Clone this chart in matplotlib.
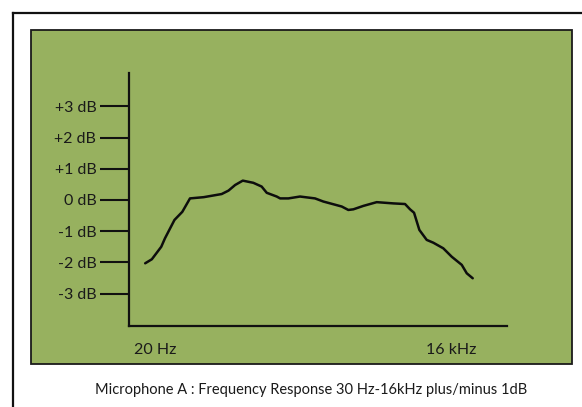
import matplotlib
matplotlib.use("Agg")
import matplotlib.pyplot as plt
from matplotlib.patches import Rectangle
from matplotlib.lines import Line2D

# ---- data ----
freq_hz = [16, 18.6, 23, 25, 31, 37, 44, 60, 90, 105, 122, 145, 184, 222, 249,
           312, 337, 406, 528, 741, 894, 1355, 1572, 1761, 2208, 2985, 4345,
           5660, 6339, 6937, 7818, 9230, 10715, 13430, 16250, 20370, 22800, 26100]
response_db = [-2.03, -1.90, -1.50, -1.23, -0.64, -0.38, 0.05, 0.09, 0.19, 0.30,
               0.48, 0.62, 0.55, 0.43, 0.23, 0.11, 0.05, 0.05, 0.11, 0.05, -0.05,
               -0.21, -0.32, -0.30, -0.19, -0.07, -0.11, -0.13, -0.30, -0.41,
               -0.96, -1.28, -1.37, -1.55, -1.82, -2.08, -2.35, -2.51]
y_ticks = [3, 2, 1, 0, -1, -2, -3]
y_labels = ["+3 dB", "+2 dB", "+1 dB", "0 dB", "-1 dB", "-2 dB", "-3 dB"]
x_ticks = [20, 16000]
x_labels = ["20 Hz", "16 kHz"]
caption = "Microphone A : Frequency Response 30 Hz-16kHz plus/minus 1dB"
title = "Microphone A Frequency Response"

W, H = 582, 407
fig = plt.figure(figsize=(W / 100, H / 100), dpi=100)
fig.patch.set_facecolor("white")

def fx(px):
    return px / W

def fy(py):
    return 1 - py / H

# outer frame (top and left edges visible)
fig.add_artist(Line2D([fx(12.5), fx(W + 5)], [fy(12.5), fy(12.5)], color="#111111", lw=1.6))
fig.add_artist(Line2D([fx(12.5), fx(12.5)], [fy(12.5), fy(H + 5)], color="#111111", lw=1.6))

# green panel
green = "#97B15F"
fig.add_artist(Rectangle((fx(31), fy(364)), fx(572) - fx(31), fy(30) - fy(364),
                         facecolor=green, edgecolor="#1a1a1a", lw=1.3,
                         transform=fig.transFigure, zorder=0))

# cut-off title at the very top (only descender tips visible, as in the reference)
fig.text(0.42, fy(-3.5), title, ha="center", va="baseline", fontsize=13,
         fontweight="bold", family="Liberation Serif", color="#111111")

# plot axes
left, right, top, bottom = 129, 507, 73, 326
ax = fig.add_axes([fx(left), fy(bottom), fx(right) - fx(left), fy(top) - fy(bottom)])
ax.set_facecolor("none")
ax.set_xscale("log")
ax.set_xlim(11.1, 56600)
ax.set_ylim(-4.04, 4.07)

ax.plot(freq_hz, response_db, color="#0d0d0d", lw=1.8, solid_capstyle="round")

for s in ["top", "right"]:
    ax.spines[s].set_visible(False)
for s in ["left", "bottom"]:
    ax.spines[s].set_color("#111111")
    ax.spines[s].set_linewidth(1.6)

font = "Lato"
ax.set_yticks(y_ticks)
ax.set_yticklabels(y_labels, fontsize=11.5, family=font, color="#1a1a1a")
ax.tick_params(axis="y", length=21, width=1.5, color="#111111", pad=2.5)

ax.set_xticks(x_ticks)
ax.set_xticklabels(x_labels, fontsize=11.5, family=font, color="#1a1a1a")
ax.xaxis.set_minor_locator(matplotlib.ticker.NullLocator())
ax.tick_params(axis="x", length=0, pad=12)

fig.text(fx(311), fy(390), caption, ha="center", va="center", fontsize=10.5,
         family=font, color="#1a1a1a")

fig.savefig("out.png", dpi=100)
